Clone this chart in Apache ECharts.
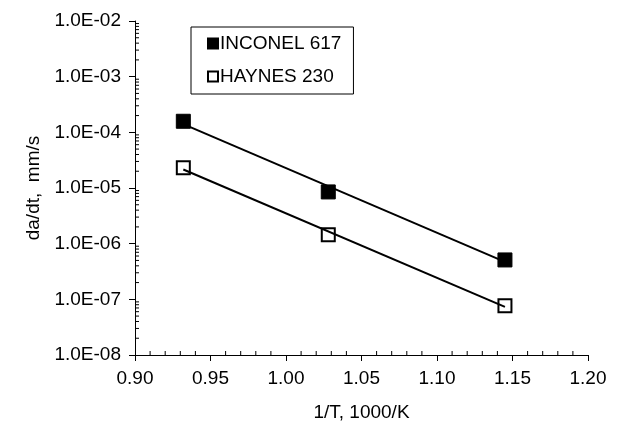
<!DOCTYPE html>
<html>
<head>
<meta charset="utf-8">
<script src="https://cdn.jsdelivr.net/npm/echarts@6/dist/echarts.min.js"></script>
<style>
  html, body { margin: 0; padding: 0; background: #fff; }
  #chart { width: 636px; height: 421px; }
</style>
</head>
<body>
<div id="chart"></div>
<script>
// 1/T values (1000/K) of the three test temperatures
const invTemp = [0.932, 1.028, 1.145]
// crack growth rate da/dt, mm/s
const inconel617 = [1.58e-4, 8.5e-6, 5.1e-7]
const haynes230 = [2.3e-5, 1.45e-6, 7.7e-8]
// trend line end points
const fitX = [0.932, 1.145]
const inconelFit = [1.4e-4, 4.7e-7]
const haynesFit = [2.15e-5, 7.3e-8]
// tick labels
const xTickLabels = ['0.90', '0.95', '1.00', '1.05', '1.10', '1.15', '1.20']
const yTickLabels = ['1.0E-08', '1.0E-07', '1.0E-06', '1.0E-05', '1.0E-04', '1.0E-03', '1.0E-02']
const yDecades = [1e-8, 1e-7, 1e-6, 1e-5, 1e-4, 1e-3]
// minor tick positions (inside the plot)
const xMinorTicks = []
for (let i = 1; i < 30; i++) {
  if (i % 5 !== 0) xMinorTicks.push(+(0.9 + i * 0.01).toFixed(2))
}
const yMinorTicks = []
yDecades.forEach(d => {
  for (let k = 2; k <= 9; k++) yMinorTicks.push(k * d)
})

const font = 'Liberation Sans'
const pair = (xs, ys) => xs.map((x, i) => [x, ys[i]])

// short inward tick drawn at an axis position
function minorTick(dx, dy) {
  return function (params, api) {
    const p = api.coord([api.value(0), api.value(1)])
    return {
      type: 'line',
      shape: { x1: p[0], y1: p[1], x2: p[0] + dx, y2: p[1] + dy },
      style: { stroke: '#000', lineWidth: 1 }
    }
  }
}

const chart = echarts.init(document.getElementById('chart'))
chart.setOption({
  animation: false,
  backgroundColor: '#fff',
  textStyle: { fontFamily: font, color: '#000' },
  grid: { left: 135, right: 48, top: 21, bottom: 66, outerBoundsMode: 'none' },
  legend: {
    orient: 'vertical',
    left: 191,
    top: 27,
    data: ['INCONEL 617', 'HAYNES 230'],
    icon: 'rect',
    itemWidth: 10,
    itemHeight: 10,
    itemGap: 14,
    padding: [7, 12, 8, 16],
    borderColor: '#000',
    borderWidth: 1,
    textStyle: { fontFamily: font, fontSize: 19, color: '#000', padding: [0, 0, 0, -3] }
  },
  xAxis: {
    type: 'value',
    min: 0.9,
    max: 1.2,
    interval: 0.05,
    name: '1/T, 1000/K',
    nameLocation: 'middle',
    nameGap: 48,
    nameTextStyle: { fontFamily: font, fontSize: 19, color: '#000' },
    axisLine: { lineStyle: { color: '#000', width: 1 } },
    axisTick: { length: 6, lineStyle: { color: '#000' } },
    axisLabel: {
      fontFamily: font,
      fontSize: 19,
      color: '#000',
      margin: 14,
      formatter: v => xTickLabels[Math.round((v - 0.9) / 0.05)]
    },
    splitLine: { show: false }
  },
  yAxis: {
    type: 'log',
    logBase: 10,
    min: 1e-8,
    max: 1e-2,
    splitNumber: 6,
    name: 'da/dt,  mm/s',
    nameLocation: 'middle',
    nameGap: 92,
    nameTextStyle: { fontFamily: font, fontSize: 19, color: '#000' },
    axisLine: { show: true, lineStyle: { color: '#000', width: 1 } },
    axisTick: { show: true, length: 6, lineStyle: { color: '#000' } },
    axisLabel: {
      fontFamily: font,
      fontSize: 19,
      color: '#000',
      margin: 14,
      formatter: v => yTickLabels[Math.round(Math.log10(v)) + 8]
    },
    splitLine: { show: false }
  },
  series: [
    {
      type: 'custom',
      data: xMinorTicks.map(x => [x, 1e-8]),
      renderItem: minorTick(0, -4),
      clip: false,
      silent: true,
      z: 0
    },
    {
      type: 'custom',
      data: yMinorTicks.map(y => [0.9, y]),
      renderItem: minorTick(4, 0),
      clip: false,
      silent: true,
      z: 0
    },
    {
      type: 'line',
      data: pair(fitX, inconelFit),
      symbol: 'none',
      lineStyle: { color: '#000', width: 2 },
      silent: true,
      z: 1
    },
    {
      type: 'line',
      data: pair(fitX, haynesFit),
      symbol: 'none',
      lineStyle: { color: '#000', width: 2 },
      silent: true,
      z: 1
    },
    {
      name: 'INCONEL 617',
      type: 'scatter',
      data: pair(invTemp, inconel617),
      symbol: 'rect',
      symbolSize: 14,
      itemStyle: { color: '#000', borderColor: '#000', borderWidth: 1, opacity: 1 },
      z: 3
    },
    {
      name: 'HAYNES 230',
      type: 'scatter',
      data: pair(invTemp, haynes230),
      symbol: 'rect',
      symbolSize: 13,
      itemStyle: { color: 'rgba(255,255,255,0)', borderColor: '#000', borderWidth: 2, opacity: 1 },
      z: 3
    }
  ]
})
</script>
</body>
</html>
